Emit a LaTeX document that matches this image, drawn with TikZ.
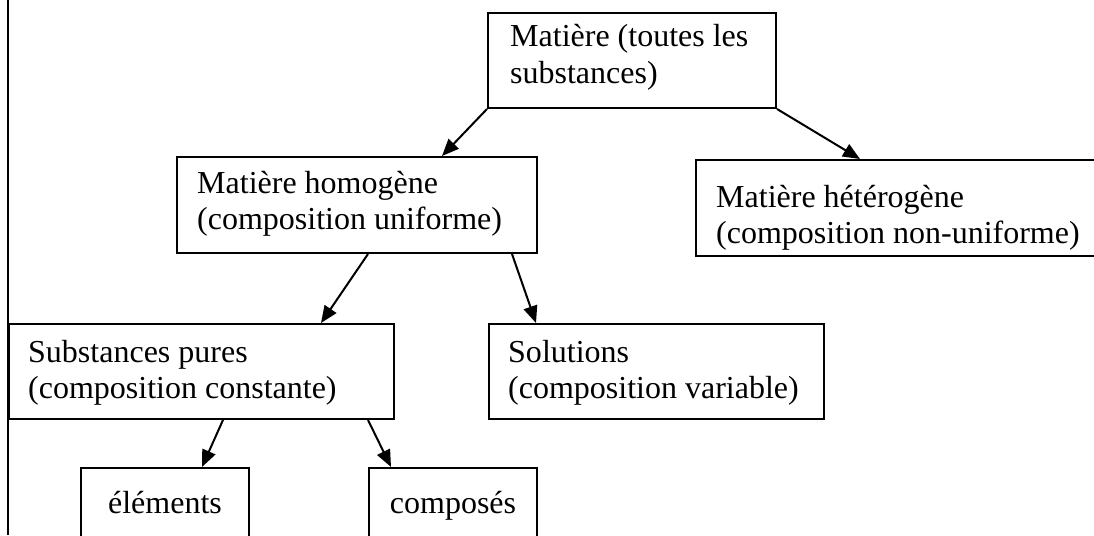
\documentclass[tikz,border=0pt]{standalone}
\usepackage{fontspec}
\setmainfont{Liberation Serif}
\usetikzlibrary{calc,arrows.meta}
\begin{document}
\begin{tikzpicture}[x=1pt,y=-1pt,
  box/.style={draw,line width=2pt,rectangle,inner sep=0pt,anchor=north west},
  lbl/.style={anchor=base west,inner sep=0pt,font=\fontsize{32}{36.8}\selectfont},
  clbl/.style={anchor=base,inner sep=0pt,font=\fontsize{32}{36.8}\selectfont},
  arr/.style={line width=2pt,-{Triangle[length=17pt,width=14pt]}}]
\useasboundingbox (0,0) rectangle (1094,535);
\clip (0,0) rectangle (1094,535);
% boxes
\node[box,minimum width=288pt,minimum height=95pt] (top) at (487,12) {};
\node[box,minimum width=360pt,minimum height=96pt] (homo) at (176,156) {};
\node[box,minimum width=420pt,minimum height=96pt] (het) at (695,159) {};
\node[box,minimum width=385pt,minimum height=95pt] (subs) at (7.5,323) {};
\node[box,minimum width=335pt,minimum height=95pt] (sol) at (488,323) {};
\node[box,minimum width=168pt,minimum height=100pt] (elem) at (80,467) {};
\node[box,minimum width=168pt,minimum height=100pt] (comp) at (368,467) {};
% left vertical rule
\coordinate (vtop) at (7.5,0);
\coordinate (vbot) at (7.5,535);
\draw[line width=2pt] (vtop) -- (vbot);
% texts
\node[lbl] (t1) at ($(top.north west)+(23,35)$) {Matière (toutes les};
\node[lbl] (t2) at ($(top.north west)+(23,71.8)$) {substances)};
\node[lbl] (h1) at ($(homo.north west)+(21,37)$) {Matière homogène};
\node[lbl] (h2) at ($(homo.north west)+(21,73.8)$) {(composition uniforme)};
\node[lbl] (e1) at ($(het.north west)+(21,48)$) {Matière hétérogène};
\node[lbl] (e2) at ($(het.north west)+(21,84.8)$) {(composition non-uniforme)};
\node[lbl] (s1) at ($(subs.north west)+(20.5,39)$) {Substances pures};
\node[lbl] (s2) at ($(subs.north west)+(20.5,75.8)$) {(composition constante)};
\node[lbl] (o1) at ($(sol.north west)+(20,39)$) {Solutions};
\node[lbl] (o2) at ($(sol.north west)+(20,75.8)$) {(composition variable)};
\node[clbl] (l1) at ($(elem.north)+(0,46.5)$) {éléments};
\node[clbl] (c1) at ($(comp.north)+(0,46.5)$) {composés};
% arrows
\draw[arr] (top.south west) -- ($(homo.north west)+(266,0)$);
\draw[arr] (top.south east) -- ($(het.north west)+(165,0)$);
\draw[arr] ($(homo.south west)+(192,0)$) -- ($(subs.north west)+(313.5,0)$);
\draw[arr] ($(homo.south west)+(336,0)$) -- ($(sol.north west)+(48,0)$);
\draw[arr] ($(subs.south west)+(215.5,0)$) -- ($(elem.north west)+(122,0)$);
\draw[arr] ($(subs.south west)+(360.5,0)$) -- ($(comp.north west)+(23,0)$);
\end{tikzpicture}
\end{document}
